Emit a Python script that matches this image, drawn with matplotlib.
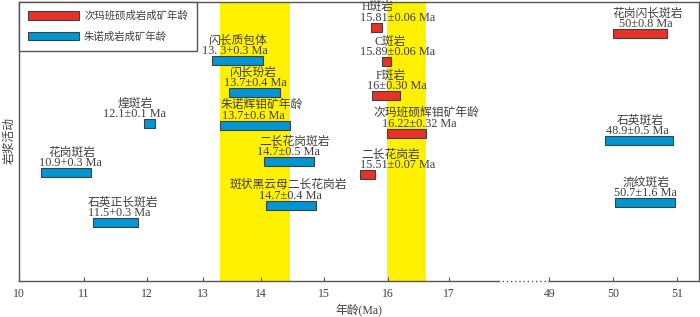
import numpy as np
import matplotlib
matplotlib.use('Agg')
import matplotlib.pyplot as plt
from matplotlib.patches import Patch
from matplotlib.font_manager import FontProperties

# ---------------- data ----------------
tick_ages = [10, 11, 12, 13, 14, 15, 16, 17, 49, 50, 51]
tick_labels = ['10', '11', '12', '13', '14', '15', '16', '17', '49', '50', '51']
legend_labels = ['次玛班硕成岩成矿年龄', '朱诺成岩成矿年龄']

# 朱诺 (blue)
zhunuo_names = ['闪长质包体', '闪长玢岩', '朱诺辉钼矿年龄', '二长花岗斑岩', '斑状黑云母二长花岗岩',
                '煌斑岩', '花岗斑岩', '石英正长斑岩', '石英斑岩', '流纹斑岩']
zhunuo_texts = ['13. 3+0.3 Ma', '13.7±0.4 Ma', '13.7±0.6 Ma', '14.7±0.5 Ma', '14.7±0.4 Ma',
                '12.1±0.1 Ma', '10.9+0.3 Ma', '11.5+0.3 Ma', '48.9±0.5 Ma', '50.7±1.6 Ma']
zhunuo_start = [13.15, 13.45, 13.29, 14.05, 14.08, 11.96, 10.34, 11.15, 49.87, 50.03]
zhunuo_end = [14.03, 14.30, 14.46, 14.84, 14.87, 12.15, 11.12, 11.86, 50.93, 50.96]

# 次玛班硕 (red)
cmbs_names = ['H斑岩', 'C斑岩', 'F斑岩', '次玛班硕辉钼矿年龄', '二长花岗岩', '花岗闪长斑岩']
cmbs_texts = ['15.81±0.06 Ma', '15.89±0.06 Ma', '16±0.30 Ma', '16.22±0.32 Ma', '15.51±0.07 Ma', '50±0.8 Ma']
cmbs_start = [15.73, 15.91, 15.75, 15.98, 15.56, 50.00]
cmbs_end = [15.91, 16.05, 16.20, 16.62, 15.80, 50.84]

# molybdenite age bands (朱诺辉钼矿年龄, 次玛班硕辉钼矿年龄)
band_start = [zhunuo_start[2], cmbs_start[3]]
band_end = [zhunuo_end[2], cmbs_end[3]]

# ---------------- layout ----------------
zhunuo_rows = [60.5, 92.5, 125, 161.5, 205, 123.5, 172.5, 222.5, 140.5, 202.5]
cmbs_rows = [27, 61.5, 95.5, 133, 174.5, 33.5]
zhunuo_name_x = [13.59, 13.85, 14.02, 14.54, 14.43, 11.81, 10.82, 11.62, 50.42, 50.51]
zhunuo_val_x = [13.55, 13.90, 13.88, 14.43, 14.46, 11.81, 10.80, 11.57, 50.38, 50.50]
cmbs_name_x = [15.84, 16.03, 16.05, 16.62, 16.05, 50.54]
cmbs_val_x = [16.16, 16.16, 16.15, 16.51, 16.16, 50.51]

RED = '#e5332a'
BLUE = '#0096d3'
YELLOW = '#fff100'
EDGE = '#404040'
TXT = '#404040'
AXC = '#555555'
FAM = ['Liberation Serif', 'Noto Sans CJK SC', 'DejaVu Sans']

# broken age axis (piecewise mapping to pixel space)
_sc_age = np.array([0, 10, 11, 12, 13, 14, 15, 16, 17, 49, 50, 51, 60], dtype=float)
_sc_px = np.array([-628, 19, 83.7, 146.7, 203.3, 260.7, 324.3, 388, 449.3, 549.3, 613.3, 677.3, 1253.3])


def fwd(a):
    return np.interp(np.asarray(a, dtype=float), _sc_age, _sc_px)


def inv(p):
    return np.interp(np.asarray(p, dtype=float), _sc_px, _sc_age)


fig = plt.figure(figsize=(7.0, 3.17), dpi=100)
ax = fig.add_axes([19 / 700, (317 - 280.7) / 317, 680 / 700, (280.7 - 2) / 317])
ax.set_xscale('function', functions=(fwd, inv))
xmax = float(inv(699))
ax.set_xlim(10, xmax)
ax.set_ylim(280.7, 2)

for s, e in zip(band_start, band_end):
    ax.axvspan(s, e, color=YELLOW, lw=0, zorder=0)

BH = 9
ax.barh(zhunuo_rows, np.array(zhunuo_end) - np.array(zhunuo_start), left=zhunuo_start,
        height=BH, color=BLUE, edgecolor=EDGE, linewidth=0.8, zorder=3)
ax.barh(cmbs_rows, np.array(cmbs_end) - np.array(cmbs_start), left=cmbs_start,
        height=BH, color=RED, edgecolor=EDGE, linewidth=0.8, zorder=3)

name_fp = dict(family=FAM, size=8.5, color=TXT)
val_fp = dict(family=FAM, size=8.8, color=TXT)
for names, texts, rows, nx, vx in [(zhunuo_names, zhunuo_texts, zhunuo_rows, zhunuo_name_x, zhunuo_val_x),
                                   (cmbs_names, cmbs_texts, cmbs_rows, cmbs_name_x, cmbs_val_x)]:
    for n, t, r, x1, x2 in zip(names, texts, rows, nx, vx):
        ax.text(x1, r - 20, n, ha='center', va='center', zorder=4, **name_fp)
        ax.text(x2, r - 9.5, t, ha='center', va='center', zorder=4, **val_fp)

# spines / axes
for side in ['left', 'top', 'right']:
    ax.spines[side].set_color(AXC)
    ax.spines[side].set_linewidth(1.0)
ax.spines['bottom'].set_visible(False)
tr = ax.get_xaxis_transform()
gap_start = float(inv(498))
ax.plot([10, gap_start], [0, 0], color=AXC, lw=1.0, transform=tr, clip_on=False, zorder=5)
ax.plot([gap_start, 49], [0, 0], color=AXC, lw=1.0, ls=(0, (1, 2)), transform=tr, clip_on=False, zorder=5)
ax.plot([49, xmax], [0, 0], color=AXC, lw=1.0, transform=tr, clip_on=False, zorder=5)

ax.set_xticks(tick_ages)
ax.set_xticklabels(tick_labels, fontfamily=FAM, fontsize=8.5, color=TXT)
ax.tick_params(axis='x', direction='in', length=3, width=0.8, color=AXC, pad=5)
ax.set_yticks([])
ax.minorticks_off()

ax.set_xlabel('年龄(Ma)', fontfamily=FAM, fontsize=8.5, color=TXT)
ax.xaxis.set_label_coords(0.5, -0.085)
fig.text(10 / 700, 1 - 141 / 317, '岩浆活动', rotation=90, ha='center', va='center',
         fontfamily=FAM, fontsize=8.5, color=TXT)

handles = [Patch(facecolor=RED, edgecolor=EDGE, linewidth=0.8, label=legend_labels[0]),
           Patch(facecolor=BLUE, edgecolor=EDGE, linewidth=0.8, label=legend_labels[1])]
leg = ax.legend(handles=handles, loc='upper left', bbox_to_anchor=(0, 1), borderaxespad=0,
                prop=FontProperties(family=FAM, size=7.5), handlelength=4.9, handleheight=0.82,
                handletextpad=0.5, labelspacing=1.0, borderpad=0.85, frameon=True, fancybox=False,
                edgecolor=AXC, framealpha=1)
leg.get_frame().set_linewidth(1.0)
leg.set_zorder(6)
for t in leg.get_texts():
    t.set_color(TXT)

fig.savefig('out.png', dpi=100)
